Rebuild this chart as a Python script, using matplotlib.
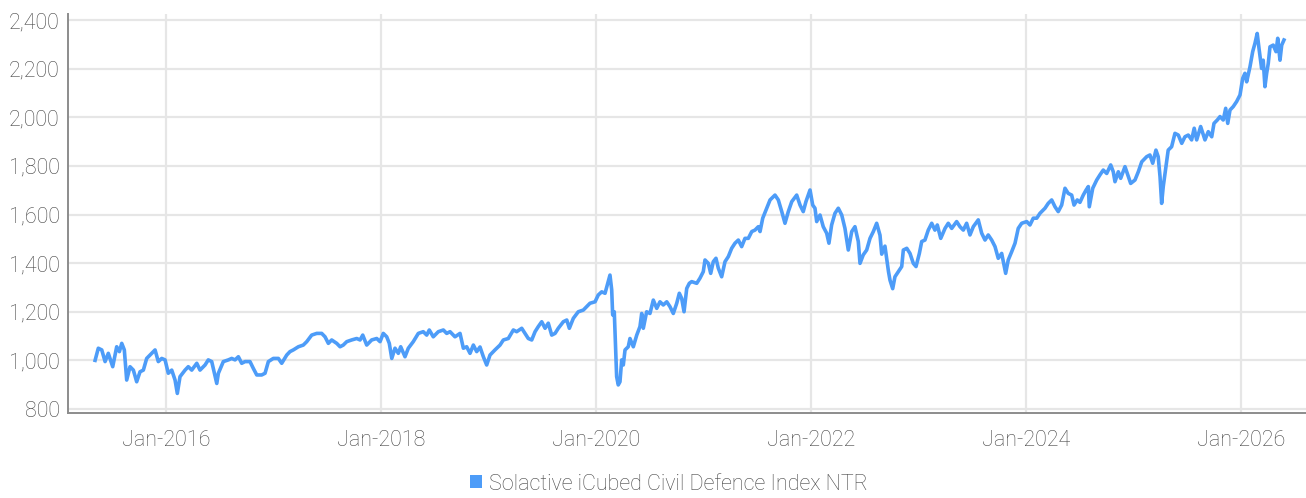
import numpy as np
import pandas as pd
import matplotlib
matplotlib.use("Agg")
import matplotlib.pyplot as plt
import matplotlib.dates as mdates
from matplotlib.patches import Patch
from matplotlib.ticker import FuncFormatter

series_name = "Solactive iCubed Civil Defence Index NTR"

# time in decimal years
years = [
    2015.340, 2015.370, 2015.402, 2015.433, 2015.463, 2015.504, 2015.541, 2015.566, 2015.588, 2015.612,
    2015.634, 2015.665, 2015.696, 2015.727, 2015.758, 2015.789, 2015.820, 2015.867, 2015.898, 2015.928,
    2015.960, 2015.991, 2016.021, 2016.053, 2016.084, 2016.105, 2016.130, 2016.177, 2016.207, 2016.239,
    2016.286, 2016.316, 2016.363, 2016.393, 2016.425, 2016.472, 2016.487, 2016.533, 2016.580, 2016.611,
    2016.642, 2016.673, 2016.704, 2016.735, 2016.781, 2016.812, 2016.844, 2016.890, 2016.921, 2016.952,
    2016.998, 2017.045, 2017.076, 2017.123, 2017.153, 2017.184, 2017.231, 2017.277, 2017.309, 2017.355,
    2017.402, 2017.448, 2017.479, 2017.510, 2017.541, 2017.588, 2017.619, 2017.649, 2017.681, 2017.727,
    2017.774, 2017.805, 2017.830, 2017.867, 2017.913, 2017.960, 2017.991, 2018.021, 2018.053, 2018.077,
    2018.100, 2018.130, 2018.161, 2018.183, 2018.223, 2018.254, 2018.300, 2018.347, 2018.393, 2018.425,
    2018.449, 2018.486, 2018.533, 2018.580, 2018.611, 2018.642, 2018.688, 2018.735, 2018.766, 2018.797,
    2018.828, 2018.859, 2018.890, 2018.921, 2018.952, 2018.983, 2019.014, 2019.060, 2019.107, 2019.138,
    2019.184, 2019.231, 2019.262, 2019.309, 2019.340, 2019.370, 2019.402, 2019.433, 2019.463, 2019.495,
    2019.526, 2019.556, 2019.588, 2019.619, 2019.649, 2019.696, 2019.728, 2019.752, 2019.789, 2019.835,
    2019.882, 2019.913, 2019.944, 2019.991, 2020.021, 2020.053, 2020.084, 2020.114, 2020.130, 2020.146,
    2020.155, 2020.170, 2020.192, 2020.207, 2020.223, 2020.239, 2020.254, 2020.270, 2020.300, 2020.316,
    2020.347, 2020.379, 2020.409, 2020.425, 2020.440, 2020.471, 2020.502, 2020.533, 2020.565, 2020.595,
    2020.626, 2020.658, 2020.688, 2020.719, 2020.751, 2020.775, 2020.797, 2020.819, 2020.844, 2020.868,
    2020.890, 2020.937, 2020.967, 2020.998, 2021.014, 2021.045, 2021.067, 2021.091, 2021.116, 2021.138,
    2021.169, 2021.200, 2021.231, 2021.262, 2021.293, 2021.324, 2021.355, 2021.386, 2021.417, 2021.449,
    2021.479, 2021.510, 2021.526, 2021.551, 2021.588, 2021.619, 2021.665, 2021.696, 2021.728, 2021.758,
    2021.789, 2021.821, 2021.867, 2021.898, 2021.928, 2021.953, 2021.991, 2022.016, 2022.037, 2022.053,
    2022.084, 2022.114, 2022.146, 2022.167, 2022.192, 2022.223, 2022.254, 2022.286, 2022.316, 2022.347,
    2022.379, 2022.409, 2022.440, 2022.456, 2022.486, 2022.518, 2022.549, 2022.580, 2022.611, 2022.642,
    2022.658, 2022.688, 2022.704, 2022.721, 2022.735, 2022.760, 2022.781, 2022.812, 2022.844, 2022.859,
    2022.891, 2022.921, 2022.952, 2022.977, 2023.008, 2023.030, 2023.060, 2023.091, 2023.123, 2023.153,
    2023.175, 2023.207, 2023.247, 2023.277, 2023.309, 2023.355, 2023.386, 2023.417, 2023.448, 2023.479,
    2023.510, 2023.556, 2023.588, 2023.619, 2023.649, 2023.681, 2023.712, 2023.742, 2023.774, 2023.811,
    2023.835, 2023.867, 2023.898, 2023.928, 2023.960, 2024.007, 2024.037, 2024.068, 2024.100, 2024.130,
    2024.177, 2024.207, 2024.239, 2024.270, 2024.300, 2024.332, 2024.363, 2024.393, 2024.425, 2024.447,
    2024.477, 2024.502, 2024.533, 2024.558, 2024.580, 2024.589, 2024.621, 2024.658, 2024.688, 2024.719,
    2024.751, 2024.788, 2024.812, 2024.828, 2024.859, 2024.881, 2024.921, 2024.952, 2024.974, 2025.014,
    2025.045, 2025.077, 2025.123, 2025.153, 2025.179, 2025.209, 2025.230, 2025.247, 2025.262, 2025.277,
    2025.302, 2025.323, 2025.355, 2025.386, 2025.417, 2025.449, 2025.479, 2025.510, 2025.541, 2025.565,
    2025.588, 2025.625, 2025.665, 2025.696, 2025.728, 2025.749, 2025.780, 2025.805, 2025.835, 2025.858,
    2025.877, 2025.898, 2025.928, 2025.960, 2025.991, 2026.016, 2026.037, 2026.053, 2026.084, 2026.109,
    2026.130, 2026.151, 2026.170, 2026.192, 2026.207, 2026.223, 2026.239, 2026.254, 2026.270, 2026.300,
    2026.326, 2026.342, 2026.363, 2026.379, 2026.400,
]

values = [
    1000, 1050, 1043, 995, 1029, 974, 1056, 1036, 1070, 1043,
    919, 974, 960, 912, 953, 960, 1008, 1029, 1043, 995,
    1008, 1002, 947, 960, 919, 864, 933, 960, 974, 960,
    988, 960, 981, 1002, 995, 905, 947, 995, 1002, 1008,
    1002, 1015, 988, 995, 995, 967, 940, 940, 947, 995,
    1008, 1008, 988, 1022, 1036, 1043, 1056, 1063, 1077, 1104,
    1111, 1111, 1097, 1070, 1084, 1070, 1056, 1063, 1077, 1084,
    1090, 1084, 1104, 1063, 1084, 1090, 1077, 1111, 1097, 1070,
    1008, 1050, 1029, 1056, 1015, 1050, 1077, 1111, 1118, 1104,
    1125, 1097, 1118, 1125, 1111, 1118, 1097, 1111, 1050, 1056,
    1029, 1063, 1036, 1055, 1015, 981, 1022, 1043, 1063, 1084,
    1090, 1125, 1118, 1132, 1111, 1090, 1084, 1118, 1139, 1159,
    1132, 1153, 1104, 1111, 1132, 1159, 1166, 1132, 1173, 1200,
    1207, 1221, 1235, 1241, 1269, 1282, 1276, 1324, 1351, 1290,
    1187, 1200, 933, 899, 912, 1002, 981, 1043, 1056, 1090,
    1056, 1104, 1139, 1193, 1132, 1200, 1193, 1248, 1214, 1241,
    1228, 1241, 1221, 1193, 1235, 1276, 1255, 1200, 1296, 1317,
    1324, 1317, 1338, 1365, 1413, 1399, 1358, 1406, 1420, 1379,
    1344, 1406, 1427, 1461, 1482, 1495, 1468, 1502, 1502, 1530,
    1536, 1550, 1530, 1585, 1626, 1660, 1680, 1660, 1612, 1564,
    1612, 1653, 1680, 1639, 1612, 1653, 1701, 1639, 1626, 1571,
    1598, 1550, 1523, 1482, 1557, 1605, 1626, 1598, 1543, 1454,
    1530, 1550, 1489, 1399, 1434, 1454, 1502, 1530, 1564, 1515,
    1437, 1470, 1420, 1365, 1330, 1295, 1344, 1365, 1386, 1454,
    1461, 1440, 1399, 1386, 1440, 1489, 1495, 1536, 1564, 1536,
    1557, 1502, 1543, 1564, 1543, 1571, 1550, 1536, 1564, 1516,
    1550, 1578, 1523, 1495, 1516, 1495, 1468, 1420, 1440, 1358,
    1413, 1447, 1482, 1543, 1564, 1571, 1557, 1585, 1585, 1605,
    1626, 1646, 1660, 1632, 1612, 1639, 1708, 1687, 1680, 1639,
    1660, 1650, 1680, 1700, 1715, 1632, 1708, 1742, 1763, 1783,
    1769, 1804, 1776, 1735, 1776, 1749, 1797, 1756, 1728, 1742,
    1776, 1817, 1838, 1845, 1811, 1865, 1838, 1756, 1646, 1715,
    1797, 1865, 1879, 1934, 1927, 1893, 1920, 1927, 1907, 1955,
    1907, 1962, 1907, 1941, 1920, 1975, 1989, 2003, 1989, 2037,
    1975, 2030, 2044, 2065, 2092, 2160, 2181, 2146, 2208, 2270,
    2304, 2345, 2276, 2201, 2235, 2126, 2181, 2222, 2290, 2297,
    2270, 2325, 2235, 2297, 2318,
]

y_ticks = [800, 1000, 1200, 1400, 1600, 1800, 2000, 2200, 2400]

line_color = "#4d9cf8"
grid_color = "#e6e6e6"
text_color = "#464646"
axis_color = "#8c8c8c"

plt.rcParams["font.family"] = ["Roboto", "DejaVu Sans"]

def to_dates(yrs):
    yrs = np.asarray(yrs, dtype=float)
    base = pd.Timestamp("2016-01-01")
    return base + pd.to_timedelta((yrs - 2016.0) * 365.25, unit="D")

dates = to_dates(years)

fig = plt.figure(figsize=(13.06, 4.98), dpi=100)
ax = fig.add_axes([68 / 1306, 1 - 413 / 498, (1306 - 68) / 1306, (413 - 14) / 498])

ax.plot(dates, values, color=line_color, linewidth=2.6, solid_joinstyle="round", zorder=3)

ax.set_ylim(783.5, 2425)
ax.set_xlim(to_dates([2015.088])[0], to_dates([2026.605])[0])
ax.set_yticks(y_ticks)
ax.yaxis.set_major_formatter(FuncFormatter(lambda v, p: f"{int(v):,}"))
ax.xaxis.set_major_locator(mdates.YearLocator(base=2, month=1, day=1))
ax.xaxis.set_major_formatter(mdates.DateFormatter("%b-%Y"))

ax.grid(True, color=grid_color, linewidth=1.6, zorder=0)
ax.set_axisbelow(True)

for s in ["top", "right"]:
    ax.spines[s].set_visible(False)
for s in ["left", "bottom"]:
    ax.spines[s].set_color(axis_color)
    ax.spines[s].set_linewidth(1.4)

ax.tick_params(axis="both", length=0, colors=text_color, labelsize=15.5)
ax.tick_params(axis="y", pad=6)
ax.tick_params(axis="x", pad=12)
for lab in ax.get_xticklabels() + ax.get_yticklabels():
    lab.set_fontweight("light")

handle = Patch(facecolor=line_color, edgecolor="none")
leg = fig.legend([handle], [series_name], loc="center", bbox_to_anchor=(669 / 1306, 1 - 484 / 498),
                 frameon=False, fontsize=15.5, handlelength=0.55, handleheight=0.55, handletextpad=0.3,
                 labelcolor=text_color)
for t in leg.get_texts():
    t.set_fontweight("light")

fig.savefig("out.png", dpi=100)
